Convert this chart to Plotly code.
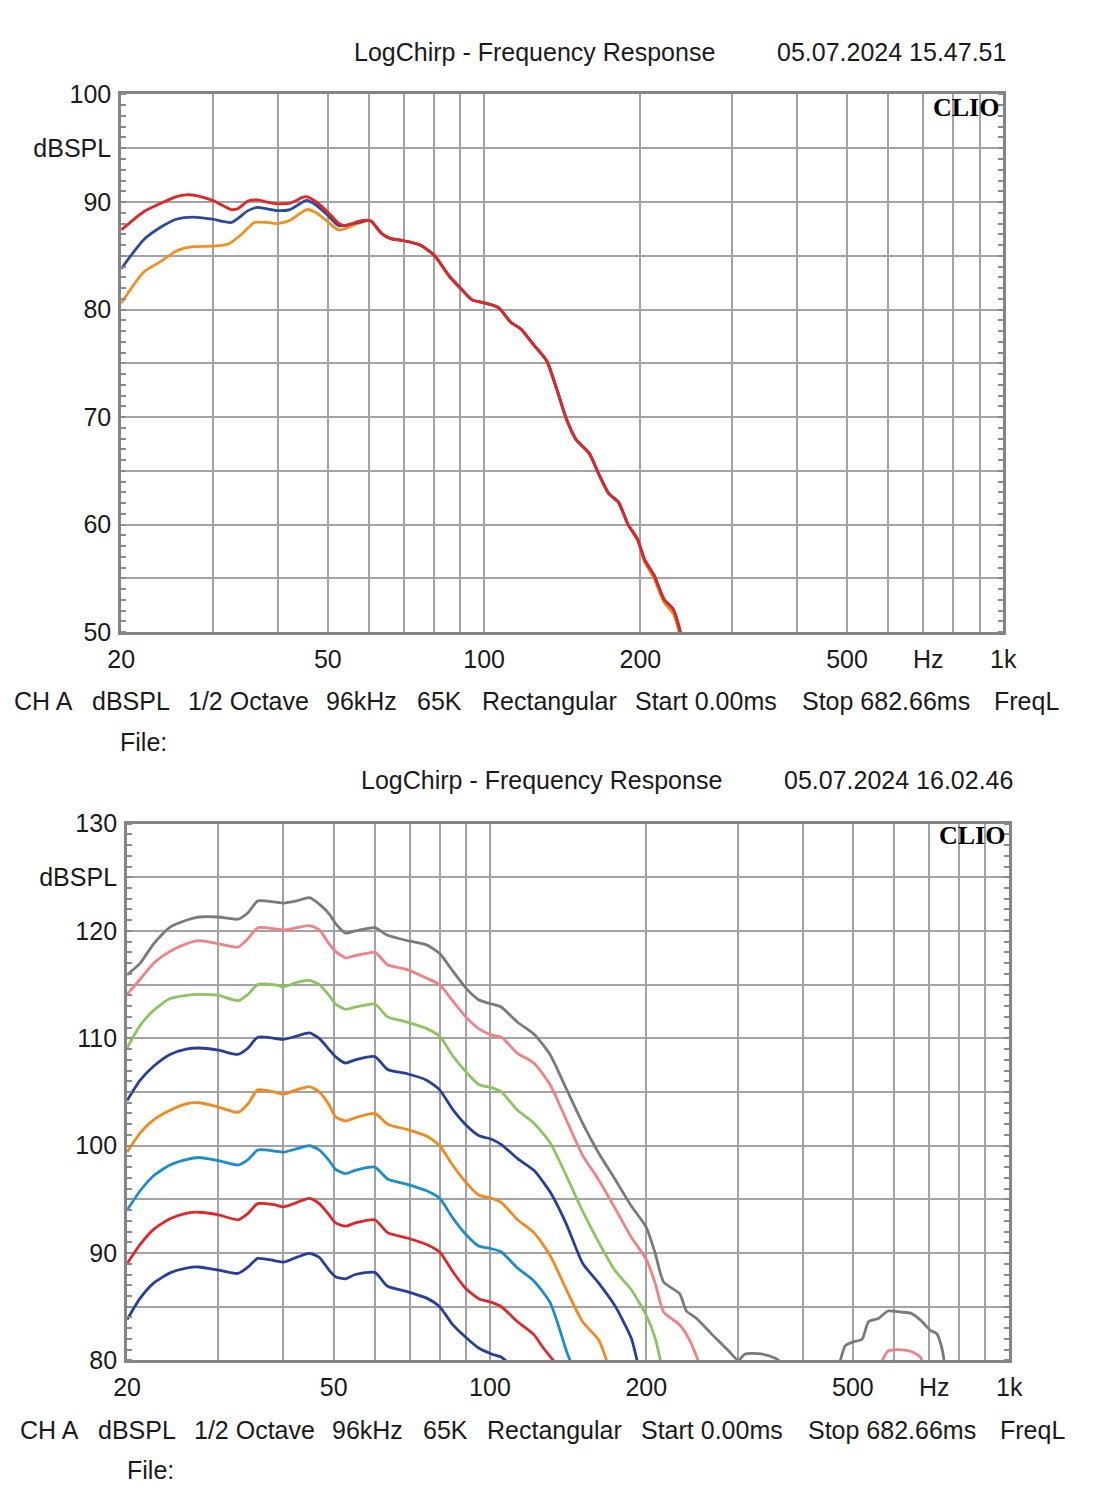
import math
import plotly.graph_objects as go

W, H = 1107, 1500

# ---------------- Top chart data ----------------
TOP_RED_LOW_F = [20, 22.1, 23.9, 25.55, 26.7, 27.9, 30, 31.3, 32.6, 33.6, 35.1, 36.6, 38.2, 39.9,
                 42.3, 44.8, 45.5, 47.5, 49.9, 52.5, 54.0, 57.2, 59.8]
TOP_RED_LOW = [87.4, 89.1, 89.9, 90.5, 90.67, 90.6, 90.15, 89.7, 89.3, 89.4, 90.1, 90.2, 90.0, 89.85,
               89.9, 90.45, 90.5, 90.0, 89.1, 88.0, 87.8, 88.2, 88.3]

TOP_BLUE_LOW_F = [20, 22.1, 23.9, 25.55, 27.5, 30, 32.6, 35.1, 36.6, 39.9, 42.3, 45.5, 47.5, 49.9,
                  52.5, 57.2, 59.8]
TOP_BLUE_LOW = [83.8, 86.5, 87.7, 88.4, 88.6, 88.4, 88.1, 89.2, 89.5, 89.2, 89.3, 90.15, 89.7, 88.8,
                87.8, 88.1, 88.3]

TOP_ORANGE_LOW_F = [20, 22.1, 23.9, 25.55, 27.5, 30, 32.2, 34.1, 36.1, 38.2, 39.9, 42.3, 45.5, 47.5,
                    49.9, 52.5, 57.2, 59.8]
TOP_ORANGE_LOW = [80.6, 83.5, 84.5, 85.45, 85.85, 85.9, 86.1, 87.0, 88.1, 88.1, 88.0, 88.3, 89.3, 89.0,
                  88.2, 87.4, 88.0, 88.3]

TOP_TAIL_F = [60.7, 63.4, 66.1, 70, 75.3, 80.3, 85.7, 90.8, 94.8, 100.4, 106.4, 112.7, 117.7, 124.7,
              132.1, 138, 144, 150.4, 159.3, 166.3, 173.7, 181.4, 189.4, 197.7, 203.5, 212.5, 221.9,
              231.6, 236.7, 240.1]
TOP_TAIL = [88.2, 87.1, 86.6, 86.4, 86.0, 85.0, 83.1, 81.8, 80.9, 80.6, 80.2, 78.8, 78.2, 76.7,
            75.2, 72.6, 69.85, 67.9, 66.65, 64.7, 62.9, 62.1, 60.0, 58.6, 56.8, 55.3, 53.1,
            52.1, 50.7, 49.5]
TOP_ORANGE_TAIL = [88.2, 87.1, 86.6, 86.4, 86.0, 85.0, 83.1, 81.8, 80.9, 80.6, 80.2, 78.8, 78.2, 76.7,
                   75.2, 72.6, 69.85, 67.9, 66.65, 64.7, 62.9, 62.1, 60.0, 58.5, 56.6, 55.0, 52.8,
                   51.7, 50.3, 49.3]

# ---------------- Bottom chart data ----------------
B_F = [20, 21.2, 22.5, 24.2, 26, 27.5, 30, 32.7, 34.2, 35.7,
       38.4, 40, 42.4, 44.9, 46.9, 49, 50.4, 52.7, 55, 60,
       63.5, 69.3, 75.5, 80, 84.7, 89.8, 95.1, 100.7, 105.2, 113,
       121.5, 130.5, 140.3, 150.8, 162, 174, 187, 200, 208, 216,
       232, 239, 250, 268, 288, 301, 310, 333, 353, 365]

GRAY = [115.9, 117.0, 118.8, 120.35, 121.0, 121.3, 121.3, 121.1, 121.7, 122.8,
        122.7, 122.6, 122.8, 123.1, 122.5, 121.6, 120.7, 119.8, 120.0, 120.3,
        119.6, 119.1, 118.7, 117.9, 116.3, 114.7, 113.6, 113.2, 112.9, 111.5,
        110.4, 108.5, 105.3, 102.1, 99.3, 96.9, 94.4, 92.4, 90.0, 87.3,
        86.2, 84.6, 83.9, 82.4, 80.9, 80.0, 80.6, 80.6, 80.25, 79.8]
GRAY_BUMP_F = [470, 484, 499, 521, 536, 560, 584, 619, 646, 675, 705, 725, 741, 752]
GRAY_BUMP = [79.5, 81.4, 81.7, 82.0, 83.6, 83.9, 84.6, 84.5, 84.4, 83.75, 82.8, 82.5, 81.25, 79.5]

PINK_F = B_F[:41] + [243, 254]
PINK = [114.1, 115.5, 117.0, 118.1, 118.8, 119.1, 118.8, 118.5, 119.3, 120.3,
        120.2, 120.1, 120.3, 120.5, 120.1, 118.8, 118.1, 117.5, 117.7, 118.0,
        116.85, 116.4, 115.6, 115.0, 113.5, 112.0, 110.9, 110.3, 110.1, 108.6,
        107.7, 105.7, 102.4, 99.1, 96.8, 94.2, 91.5, 89.4, 87.2, 84.5,
        83.3, 81.8, 79.5]
PINK_BUMP_F = [563, 584, 610, 646, 675, 682]
PINK_BUMP = [79.5, 80.85, 81.0, 80.85, 80.3, 79.5]

GREEN_F = B_F[:39] + [214]
GREEN = [109.1, 111.2, 112.6, 113.7, 114.0, 114.1, 114.0, 113.5, 114.1, 115.0,
         115.0, 114.8, 115.2, 115.4, 115.0, 114.0, 113.2, 112.7, 112.9, 113.2,
         112.0, 111.5, 110.9, 110.2, 108.4, 106.9, 105.7, 105.4, 105.0, 103.3,
         102.1, 100.3, 97.2, 93.9, 91.0, 88.4, 86.6, 84.2, 82.1, 79.5]

NAVY_F = B_F[:37] + [193]
NAVY = [104.2, 106.1, 107.4, 108.5, 109.0, 109.1, 108.9, 108.5, 109.1, 110.1,
        110.0, 109.9, 110.2, 110.5, 110.0, 108.95, 108.3, 107.7, 108.0, 108.3,
        107.1, 106.7, 106.1, 105.2, 103.4, 101.95, 100.95, 100.6, 100.1, 98.8,
        97.7, 95.7, 92.7, 89.05, 87.2, 85.1, 82.1, 79.5]

ORANGE_F = B_F[:35] + [169]
ORANGE = [99.4, 101.2, 102.4, 103.3, 103.9, 104.0, 103.6, 103.1, 103.9, 105.2,
          105.0, 104.8, 105.2, 105.5, 105.0, 103.8, 102.7, 102.3, 102.6, 103.0,
          102.0, 101.5, 100.9, 100.0, 98.2, 96.6, 95.4, 95.1, 94.7, 93.1,
          91.9, 89.8, 86.6, 83.6, 81.9, 79.5]

LBLUE_F = B_F[:32] + [136, 140.3, 144]
LBLUE = [94.0, 95.8, 97.2, 98.2, 98.7, 98.9, 98.6, 98.2, 98.7, 99.6,
         99.5, 99.4, 99.7, 100.0, 99.6, 98.6, 97.8, 97.4, 97.7, 98.0,
         96.9, 96.4, 95.8, 95.1, 93.3, 91.75, 90.65, 90.4, 90.1, 88.6,
         87.4, 85.4, 83.0, 80.9, 79.5]

RED_F = B_F[:31] + [126.5, 135]
RED = [89.0, 90.8, 92.2, 93.2, 93.7, 93.8, 93.55, 93.1, 93.7, 94.6,
       94.5, 94.3, 94.7, 95.1, 94.6, 93.55, 92.8, 92.5, 92.8, 93.1,
       91.9, 91.4, 90.8, 90.1, 88.3, 86.7, 85.75, 85.4, 85.0, 83.6,
       82.4, 81.2, 79.5]

NAVY2_F = B_F[:29] + [110]
NAVY2 = [83.8, 85.8, 87.2, 88.15, 88.6, 88.7, 88.4, 88.1, 88.7, 89.5,
         89.3, 89.15, 89.6, 89.97, 89.6, 88.4, 87.8, 87.6, 88.0, 88.2,
         86.9, 86.4, 85.8, 85.0, 83.35, 82.15, 81.15, 80.6, 80.3, 79.5]

# ---------------- Axis ticks ----------------
X_GRID = [20, 30, 40, 50, 60, 70, 80, 90, 100, 200, 300, 400, 500, 600, 700, 800, 900, 1000]
X_LABELS = ['20', '', '', '50', '', '', '', '', '100', '200', '', '', '500', '', '', '', '', '1k']
Y_TOP_GRID = [50, 55, 60, 65, 70, 75, 80, 85, 90, 95, 100]
Y_TOP_LABELS = ['50', '', '60', '', '70', '', '80', '', '90', 'dBSPL', '100']
Y_BOT_GRID = [80, 85, 90, 95, 100, 105, 110, 115, 120, 125, 130]
Y_BOT_LABELS = ['80', '', '90', '', '100', '', '110', '', '120', 'dBSPL', '130']

INFO_ITEMS = ['CH A', 'dBSPL', '1/2 Octave', '96kHz', '65K', 'Rectangular',
              'Start 0.00ms', 'Stop 682.66ms', 'FreqL']

FONT = 'Liberation Sans, Arial, sans-serif'
TXT = '#1a1a1a'
FS = 25

fig = go.Figure()


def add_line(fx, fy, color, xa, ya):
    fig.add_trace(go.Scatter(x=fx, y=fy, mode='lines', xaxis=xa, yaxis=ya,
                             line=dict(color=color, width=2.8, shape='spline', smoothing=0.6),
                             connectgaps=False, hoverinfo='skip'))


# top chart: orange, blue, red (red on top)
add_line(TOP_ORANGE_LOW_F + TOP_TAIL_F, TOP_ORANGE_LOW + TOP_ORANGE_TAIL, '#f0901e', 'x', 'y')
add_line(TOP_BLUE_LOW_F + TOP_TAIL_F, TOP_BLUE_LOW + TOP_TAIL, '#2b4a9c', 'x', 'y')
add_line(TOP_RED_LOW_F + TOP_TAIL_F, TOP_RED_LOW + TOP_TAIL, '#e02626', 'x', 'y')

# bottom chart
add_line(B_F + [420] + GRAY_BUMP_F, GRAY + [None] + GRAY_BUMP, '#7a7a7a', 'x2', 'y2')
add_line(PINK_F + [450] + PINK_BUMP_F, PINK + [None] + PINK_BUMP, '#ee8286', 'x2', 'y2')
add_line(GREEN_F, GREEN, '#8cc460', 'x2', 'y2')
add_line(NAVY_F, NAVY, '#26409a', 'x2', 'y2')
add_line(ORANGE_F, ORANGE, '#f2891f', 'x2', 'y2')
add_line(LBLUE_F, LBLUE, '#1d8ccc', 'x2', 'y2')
add_line(RED_F, RED, '#e0262a', 'x2', 'y2')
add_line(NAVY2_F, NAVY2, '#26409a', 'x2', 'y2')


def xaxis_cfg(x0, x1, anchor):
    return dict(type='log', range=[math.log10(20), math.log10(1000)], domain=[x0 / W, x1 / W],
                anchor=anchor, tickmode='array', tickvals=X_GRID, ticktext=X_LABELS,
                showgrid=True, gridcolor='#a3a3a3', gridwidth=1.6, showline=True,
                linecolor='#848484', linewidth=3, mirror=True, ticks='', zeroline=False,
                tickfont=dict(family=FONT, size=FS, color=TXT), ticklabelstandoff=3)


def yaxis_cfg(y0, y1, rng, vals, labels, anchor):
    return dict(range=rng, domain=[1 - y1 / H, 1 - y0 / H], anchor=anchor,
                tickmode='array', tickvals=vals, ticktext=labels,
                showgrid=True, gridcolor='#a3a3a3', gridwidth=1.6, showline=True,
                linecolor='#848484', linewidth=3, mirror='ticks', ticks='', zeroline=False,
                tickfont=dict(family=FONT, size=FS, color=TXT), ticklabelstandoff=2,
                minor=dict(tickmode='linear', tick0=0, dtick=1, ticks='inside', ticklen=5,
                           tickwidth=1.5, tickcolor='#8a8a8a', showgrid=False))


annotations = []


def note(text, x, y, size=FS, family=FONT, color=TXT):
    annotations.append(dict(text=text, x=x / W, y=1 - y / H, xref='paper', yref='paper',
                            xanchor='center', yanchor='middle', showarrow=False,
                            font=dict(family=family, size=size, color=color)))


INFO_X = [30, 120, 241, 357, 437, 549, 710, 895, 1039]

# top chart texts
note('LogChirp - Frequency Response', 534, 39)
note('05.07.2024 15.47.51', 900, 39)
note('<b>CLIO</b>', 977, 95, size=26, family='Liberation Serif, Times New Roman, serif', color='#000')
note('Hz', 938, 657)
for t, xx in zip(INFO_ITEMS, INFO_X):
    note(t, xx, 700)
note('File:', 133, 742)

# bottom chart texts
note('LogChirp - Frequency Response', 541, 781)
note('05.07.2024 16.02.46', 907, 781)
note('<b>CLIO</b>', 983, 837, size=26, family='Liberation Serif, Times New Roman, serif', color='#000')
note('Hz', 944, 1399)
for t, xx in zip(INFO_ITEMS, INFO_X):
    note(t, xx + 6, 1443)
note('File:', 140, 1484)

fig.update_layout(
    width=W, height=H, margin=dict(l=0, r=0, t=0, b=0),
    paper_bgcolor='white', plot_bgcolor='white', showlegend=False,
    xaxis=xaxis_cfg(110, 1015, 'y'),
    yaxis=yaxis_cfg(82, 630, [50, 100], Y_TOP_GRID, Y_TOP_LABELS, 'x'),
    xaxis2=xaxis_cfg(116, 1021, 'y2'),
    yaxis2=yaxis_cfg(825, 1372, [80, 130], Y_BOT_GRID, Y_BOT_LABELS, 'x2'),
    annotations=annotations,
)

fig.write_html('out.html')
